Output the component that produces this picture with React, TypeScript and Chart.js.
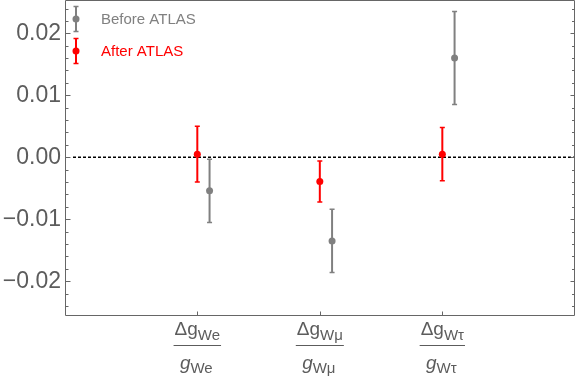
import React, { useEffect, useRef } from "react";
import { Chart, registerables } from "chart.js";

Chart.register(...registerables);

// ---- data ----
const categoryPositions = [1, 2, 3];
const labelSubscripts = ["We", "Wμ", "Wτ"];
const beforeValues = [-0.0054, -0.0135, 0.016];
const beforeErrors = [0.0051, 0.0051, 0.0075];
const afterValues = [0.0005, -0.0039, 0.0005];
const afterErrors = [0.0045, 0.0033, 0.0043];
const yTickValues = [-0.02, -0.01, 0, 0.01, 0.02];
const seriesNames = ["Before ATLAS", "After ATLAS"];

// ---- style ----
const BEFORE_OFFSET = 0.1;
const GRAY = "#808080";
const RED = "#ff0000";
const FRAME = "#666666";
const TEXT = "#5c5c5c";
const FONT = "'Liberation Sans', Arial, Helvetica, sans-serif";

function fmt(v: number): string {
  if (Math.abs(v) < 1e-9) return "0.00";
  const s = Math.abs(v).toFixed(2);
  return v < 0 ? "\u2212" + s : s;
}

function drawErrorBar(ctx: CanvasRenderingContext2D, px: number, pyLo: number, pyHi: number, color: string) {
  ctx.save();
  ctx.strokeStyle = color;
  ctx.lineWidth = 2;
  ctx.beginPath();
  ctx.moveTo(px, pyLo);
  ctx.lineTo(px, pyHi);
  ctx.stroke();
  ctx.lineWidth = 1.5;
  ctx.beginPath();
  ctx.moveTo(px - 2.5, pyLo);
  ctx.lineTo(px + 2.5, pyLo);
  ctx.moveTo(px - 2.5, pyHi);
  ctx.lineTo(px + 2.5, pyHi);
  ctx.stroke();
  ctx.restore();
}

function zeroPad(s: any) {
  s.paddingTop = 0;
  s.paddingBottom = 0;
  s.paddingLeft = 0;
  s.paddingRight = 0;
}

const customPlugin = {
  id: "customDraw",
  beforeDatasetsDraw(chart: any) {
    const { ctx, chartArea: a, scales } = chart;
    const x = scales.x;
    const y = scales.y;
    // zero dotted line
    ctx.save();
    ctx.strokeStyle = "#000";
    ctx.lineWidth = 1.5;
    ctx.setLineDash([3, 2]);
    const y0 = y.getPixelForValue(0);
    ctx.beginPath();
    ctx.moveTo(a.left + 8, y0);
    ctx.lineTo(a.right - 1, y0);
    ctx.stroke();
    ctx.restore();
    // error bars
    categoryPositions.forEach((c, i) => {
      const pxB = x.getPixelForValue(c + BEFORE_OFFSET);
      drawErrorBar(
        ctx,
        pxB,
        y.getPixelForValue(beforeValues[i] - beforeErrors[i]),
        y.getPixelForValue(beforeValues[i] + beforeErrors[i]),
        GRAY
      );
      const pxA = x.getPixelForValue(c);
      drawErrorBar(
        ctx,
        pxA,
        y.getPixelForValue(afterValues[i] - afterErrors[i]),
        y.getPixelForValue(afterValues[i] + afterErrors[i]),
        RED
      );
    });
  },
  afterDraw(chart: any) {
    const { ctx, chartArea: a, scales } = chart;
    const x = scales.x;
    const y = scales.y;
    ctx.save();
    // frame
    ctx.strokeStyle = FRAME;
    ctx.lineWidth = 1;
    const L = a.left + 0.5;
    const R = a.right - 0.5;
    const T = a.top - 0.5;
    const B = a.bottom + 0.5;
    ctx.beginPath();
    ctx.moveTo(L, T);
    ctx.lineTo(R, T);
    ctx.lineTo(R, B);
    ctx.lineTo(L, B);
    ctx.closePath();
    ctx.stroke();
    // y ticks (major + minor) on left and right, inward
    ctx.beginPath();
    for (let k = -24; k <= 24; k += 2) {
      const v = k / 1000;
      const py = Math.round(y.getPixelForValue(v)) + 0.5;
      if (py < a.top || py > a.bottom) continue;
      const major = k % 10 === 0;
      ctx.moveTo(L, py);
      ctx.lineTo(L + (major ? 5 : 3), py);
      ctx.moveTo(R, py);
      ctx.lineTo(R - (major ? 4 : 2.5), py);
    }
    // x ticks at categories (bottom)
    categoryPositions.forEach((c) => {
      const px = Math.round(x.getPixelForValue(c)) + 0.5;
      ctx.moveTo(px, B);
      ctx.lineTo(px, B - 4);
    });
    ctx.stroke();

    // x labels as fractions
    ctx.fillStyle = TEXT;
    ctx.textBaseline = "alphabetic";
    ctx.textAlign = "left";
    categoryPositions.forEach((c, i) => {
      const cx = x.getPixelForValue(c);
      const sub = labelSubscripts[i];
      // numerator
      ctx.font = `19px ${FONT}`;
      const wMain = ctx.measureText("\u0394g").width;
      ctx.font = `15px ${FONT}`;
      const wSub = ctx.measureText(sub).width;
      const wN = wMain + wSub;
      let sx = cx - wN / 2;
      ctx.font = `19px ${FONT}`;
      ctx.fillText("\u0394g", sx, a.bottom + 20);
      ctx.font = `15px ${FONT}`;
      ctx.fillText(sub, sx + wMain, a.bottom + 25);
      // fraction line
      ctx.strokeStyle = TEXT;
      ctx.lineWidth = 1;
      ctx.beginPath();
      ctx.moveTo(cx - wN / 2 - 1, a.bottom + 30.5);
      ctx.lineTo(cx + wN / 2 + 1, a.bottom + 30.5);
      ctx.stroke();
      // denominator
      ctx.font = `italic 19px ${FONT}`;
      const wG = ctx.measureText("g").width;
      ctx.font = `15px ${FONT}`;
      const wS2 = ctx.measureText(sub).width;
      const wD = wG + wS2;
      sx = cx - wD / 2 - 1;
      ctx.font = `italic 19px ${FONT}`;
      ctx.fillText("g", sx, a.bottom + 54);
      ctx.font = `15px ${FONT}`;
      ctx.fillText(sub, sx + wG, a.bottom + 58);
    });

    // legend
    const legendItems = [
      { name: seriesNames[0], color: GRAY, cy: 19 },
      { name: seriesNames[1], color: RED, cy: 51 },
    ];
    legendItems.forEach((it) => {
      const ix = 76;
      drawErrorBar(ctx, ix, it.cy - 12.5, it.cy + 12.5, it.color);
      ctx.fillStyle = it.color;
      ctx.beginPath();
      ctx.arc(ix, it.cy, 3.5, 0, Math.PI * 2);
      ctx.fill();
      ctx.font = `15px ${FONT}`;
      ctx.textBaseline = "middle";
      ctx.fillText(it.name, 101, it.cy + 0.5);
    });
    ctx.restore();
  },
};

export default function App() {
  const ref = useRef<HTMLCanvasElement | null>(null);
  useEffect(() => {
    if (!ref.current) return;
    const chart = new Chart(ref.current, {
      type: "scatter",
      data: {
        datasets: [
          {
            label: seriesNames[0],
            data: categoryPositions.map((c, i) => ({ x: c + BEFORE_OFFSET, y: beforeValues[i] })),
            backgroundColor: GRAY,
            borderColor: GRAY,
            pointRadius: 3.5,
            borderWidth: 0,
          },
          {
            label: seriesNames[1],
            data: categoryPositions.map((c, i) => ({ x: c, y: afterValues[i] })),
            backgroundColor: RED,
            borderColor: RED,
            pointRadius: 3.5,
            borderWidth: 0,
          },
        ],
      },
      options: {
        responsive: false,
        animation: false,
        devicePixelRatio: 1,
        layout: { autoPadding: false, padding: { top: 1, right: 1, left: 0, bottom: 0 } },
        plugins: { legend: { display: false }, tooltip: { enabled: false } },
        scales: {
          x: {
            type: "linear",
            min: -0.08,
            max: 4.083,
            grid: { display: false, drawTicks: false },
            border: { display: false },
            ticks: { display: false },
            afterFit: (s: any) => {
              s.height = 66;
              zeroPad(s);
            },
          },
          y: {
            type: "linear",
            min: -0.02544,
            max: 0.02521,
            grid: { display: false, drawTicks: false },
            border: { display: false },
            afterBuildTicks: (s: any) => {
              s.ticks = yTickValues.map((v) => ({ value: v }));
            },
            ticks: {
              padding: 4,
              color: TEXT,
              font: { family: FONT, size: 23 },
              callback: (v: any) => fmt(Number(v)),
            },
            afterFit: (s: any) => {
              s.width = 65;
              zeroPad(s);
            },
          },
        },
      },
      plugins: [customPlugin],
    } as any);
    return () => chart.destroy();
  }, []);
  return (
    <div style={{ position: "fixed", left: 0, top: 0, width: 576, height: 381, background: "#fff" }}>
      <canvas ref={ref} width={576} height={381} />
    </div>
  );
}
